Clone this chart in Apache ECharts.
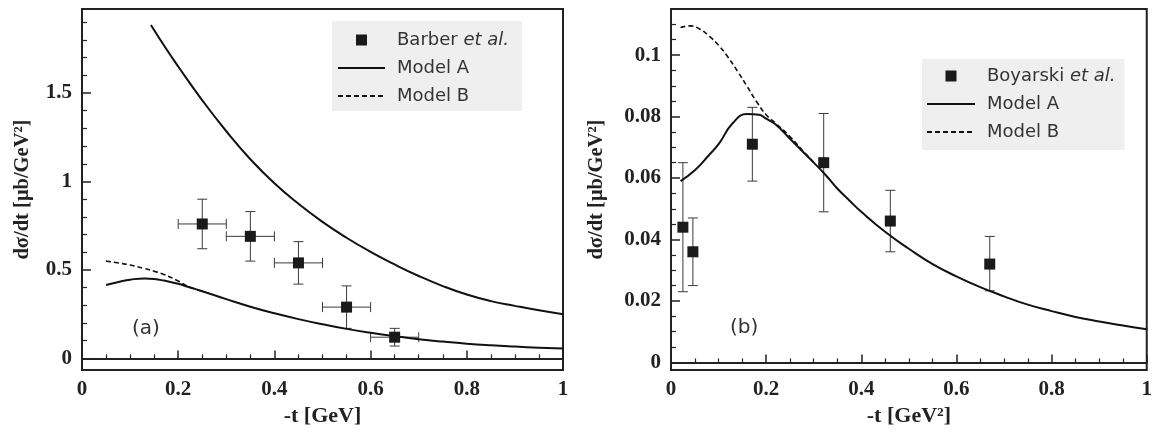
<!DOCTYPE html>
<html>
<head>
<meta charset="utf-8">
<script src="https://cdn.jsdelivr.net/npm/echarts@6/dist/echarts.min.js"></script>
<style>
html,body{margin:0;padding:0;background:#fff;}
#chart{width:1155px;height:432px;}
</style>
</head>
<body>
<div id="chart"></div>
<script>
// ---------- data: panel (a) ----------
const barberT      = [0.25, 0.35, 0.45, 0.55, 0.65];
const barberY      = [0.76, 0.69, 0.54, 0.29, 0.12];
const barberYLow   = [0.62, 0.55, 0.42, 0.17, 0.07];
const barberYHigh  = [0.90, 0.83, 0.66, 0.41, 0.17];
const barberTLow   = [0.20, 0.30, 0.40, 0.50, 0.60];
const barberTHigh  = [0.30, 0.40, 0.50, 0.60, 0.70];

const leftUpperT = [0.1433,0.175,0.2,0.25,0.3,0.35,0.4,0.45,0.5,0.55,0.6,0.65,0.7,0.75,0.8,0.85,0.9,0.95,1.0];
const leftUpperA = [1.885,1.75,1.65,1.459,1.284,1.126,0.99,0.874,0.772,0.682,0.602,0.531,0.466,0.409,0.361,0.324,0.297,0.272,0.25];

const leftLowT = [0.05,0.08,0.1,0.13,0.15,0.17,0.2,0.22,0.25,0.3,0.35,0.4,0.45,0.5,0.55,0.6,0.65,0.7,0.75,0.8,0.85,0.9,0.95,1.0];
const leftLowA = [0.415,0.435,0.445,0.452,0.449,0.44,0.422,0.405,0.38,0.335,0.292,0.255,0.222,0.193,0.167,0.145,0.126,0.109,0.095,0.083,0.074,0.067,0.061,0.056];
const leftBT   = [0.05,0.08,0.1,0.13,0.15,0.17,0.2,0.22,0.25];
const leftB    = [0.55,0.538,0.528,0.508,0.493,0.475,0.438,0.408,0.38];

const leftYMajor = [0, 0.5, 1, 1.5];
const leftYMinor = [0.1,0.2,0.3,0.4,0.6,0.7,0.8,0.9,1.1,1.2,1.3,1.4,1.6,1.7,1.8,1.9];

// ---------- data: panel (b) ----------
const boyT     = [0.025, 0.046, 0.171, 0.321, 0.461, 0.67];
const boyY     = [0.044, 0.036, 0.071, 0.065, 0.046, 0.032];
const boyYLow  = [0.023, 0.025, 0.059, 0.049, 0.036, 0.0233];
const boyYHigh = [0.065, 0.047, 0.083, 0.081, 0.056, 0.041];

const rightAT = [0.02,0.05,0.08,0.1,0.13,0.16,0.185,0.2,0.22,0.25,0.275,0.3,0.325,0.35,0.375,0.4,0.45,0.5,0.55,0.6,0.65,0.7,0.75,0.8,0.85,0.9,0.95,1.0];
const rightA  = [0.059,0.0625,0.0675,0.071,0.0779,0.0808,0.0806,0.0793,0.0774,0.0728,0.0689,0.065,0.061,0.0565,0.0527,0.049,0.0425,0.037,0.032,0.028,0.0245,0.0215,0.0188,0.0167,0.0148,0.0133,0.012,0.0108];
const rightBT = [0.02,0.04,0.06,0.08,0.1,0.12,0.14,0.16,0.18,0.2,0.22,0.25,0.275,0.3];
const rightB  = [0.109,0.1095,0.1085,0.1062,0.1032,0.0993,0.0947,0.0898,0.0848,0.0806,0.0778,0.0735,0.0692,0.0651];

const rightYMajor = [0, 0.02, 0.04, 0.06, 0.08, 0.1];
const rightYMinor = [0.005,0.01,0.015,0.025,0.03,0.035,0.045,0.05,0.055,0.065,0.07,0.075,0.085,0.09,0.095,0.105,0.11];

// ---------- styling helpers ----------
const INK = '#222';
const serif = 'Liberation Serif';
const sans = 'DejaVu Sans';
const pairs = (xs, ys) => xs.map((x, i) => [x, ys[i]]);

function xAxisDef(grid, name) {
  return {
    gridIndex: grid, type: 'value', min: 0, max: 1, interval: 0.2,
    axisLine: { lineStyle: { color: INK, width: 2 } },
    axisTick: { inside: true, length: 8, lineStyle: { color: INK, width: 1.5 } },
    minorTick: { show: true, splitNumber: 4, length: 4, lineStyle: { color: INK, width: 1.2 } },
    splitLine: { show: false }, minorSplitLine: { show: false },
    axisLabel: { margin: 9, fontFamily: serif, fontWeight: 'bold', fontSize: 21, color: INK },
    name: name, nameLocation: 'middle', nameGap: 33,
    nameTextStyle: { fontFamily: serif, fontWeight: 'bold', fontSize: 22, color: INK }
  };
}
function yMajor(grid, min, max, ticks, gap) {
  return {
    gridIndex: grid, type: 'value', min: min, max: max, position: 'left',
    axisLine: { show: true, lineStyle: { color: INK, width: 2 } },
    axisTick: { show: true, inside: true, length: 9, customValues: ticks, lineStyle: { color: INK, width: 1.5 } },
    axisLabel: { margin: 10, customValues: ticks, fontFamily: serif, fontWeight: 'bold', fontSize: 21, color: INK },
    splitLine: { show: false },
    name: 'dσ/dt [μb/GeV²]', nameLocation: 'middle', nameGap: gap, nameRotate: 90,
    nameTextStyle: { fontFamily: serif, fontWeight: 'bold', fontSize: 20.5, color: INK }
  };
}
function yMinor(grid, min, max, ticks) {
  return {
    gridIndex: grid, type: 'value', min: min, max: max, position: 'left', offset: 0,
    axisLine: { show: false },
    axisTick: { show: true, inside: true, length: 5, customValues: ticks, lineStyle: { color: INK, width: 1.2 } },
    axisLabel: { show: false },
    splitLine: { show: false }
  };
}
function errBars(xi, yi, data) {
  return {
    type: 'custom', xAxisIndex: xi, yAxisIndex: yi, z: 2, silent: true,
    data: data,
    renderItem: function (params, api) {
      const x = api.value(0), y = api.value(1);
      const ylo = api.value(2), yhi = api.value(3);
      const xlo = api.value(4), xhi = api.value(5);
      const c = api.coord([x, y]);
      const pLo = api.coord([x, ylo]), pHi = api.coord([x, yhi]);
      const st = { stroke: '#3a3a3a', lineWidth: 1 };
      const cap = 5;
      const ch = [
        { type: 'line', shape: { x1: c[0], y1: pLo[1], x2: c[0], y2: pHi[1] }, style: st },
        { type: 'line', shape: { x1: c[0] - cap, y1: pLo[1], x2: c[0] + cap, y2: pLo[1] }, style: st },
        { type: 'line', shape: { x1: c[0] - cap, y1: pHi[1], x2: c[0] + cap, y2: pHi[1] }, style: st }
      ];
      if (xhi > xlo) {
        const qLo = api.coord([xlo, y]), qHi = api.coord([xhi, y]);
        ch.push({ type: 'line', shape: { x1: qLo[0], y1: c[1], x2: qHi[0], y2: c[1] }, style: st });
        ch.push({ type: 'line', shape: { x1: qLo[0], y1: c[1] - cap, x2: qLo[0], y2: c[1] + cap }, style: st });
        ch.push({ type: 'line', shape: { x1: qHi[0], y1: c[1] - cap, x2: qHi[0], y2: c[1] + cap }, style: st });
      }
      return { type: 'group', children: ch };
    }
  };
}
function lineSeries(name, xi, yi, data, dashed) {
  return {
    type: 'line', name: name, xAxisIndex: xi, yAxisIndex: yi, data: data,
    showSymbol: false, symbol: 'none', smooth: 0.5, z: 3, silent: true,
    lineStyle: { color: '#111', width: dashed ? 1.6 : 2, type: dashed ? [5, 3] : 'solid' },
    itemStyle: { color: '#111' }
  };
}
const sq = 'path://M0 0H10V10H0Z';
function legendDef(left, top, scatterName, itemWidth, padding) {
  return {
    orient: 'vertical', left: left, top: top, selectedMode: false,
    data: [
      { name: scatterName, icon: sq, itemStyle: { opacity: 1 } },
      { name: 'Model A', itemStyle: { opacity: 0 } },
      { name: 'Model B', itemStyle: { opacity: 0 } }
    ],
    itemWidth: itemWidth, itemHeight: 11, itemGap: 10,
    padding: padding, backgroundColor: '#efefef', borderWidth: 0,
    formatter: function (n) {
      return n.endsWith(' et al.') ? n.slice(0, -7) + ' {i|et al.}' : n;
    },
    textStyle: {
      fontFamily: sans, fontSize: 18, color: '#333', lineHeight: 18, padding: [0, 0, 0, 7],
      rich: { i: { fontFamily: sans, fontSize: 18, fontStyle: 'italic', color: '#333', lineHeight: 18 } }
    }
  };
}

const option = {
  backgroundColor: '#fff',
  animation: false,
  grid: [
    { left: 82, top: 9, right: 1155 - 563, bottom: 432 - 378, show: true, borderColor: INK, borderWidth: 2, containLabel: false },
    { left: 671, top: 9, right: 2, bottom: 432 - 378, show: true, borderColor: INK, borderWidth: 2, containLabel: false }
  ],
  xAxis: [xAxisDef(0, '-t [GeV]'), xAxisDef(1, '-t [GeV²]')],
  yAxis: [
    yMajor(0, -0.066, 1.975, leftYMajor, 49),
    yMinor(0, -0.066, 1.975, leftYMinor),
    yMajor(1, -0.0025, 0.115, rightYMajor, 64),
    yMinor(1, -0.0025, 0.115, rightYMinor)
  ],
  legend: [
    legendDef(332, 21, 'Barber et al.', 47, [10, 13, 6, 5]),
    legendDef(922, 59, 'Boyarski et al.', 48, [8, 9, 9, 4])
  ],
  graphic: [
    { type: 'text', left: 132, top: 319, style: { text: '(a)', fontFamily: sans, fontSize: 20, fill: '#333' } },
    { type: 'text', left: 730, top: 318, style: { text: '(b)', fontFamily: sans, fontSize: 20, fill: '#333' } }
  ],
  series: [
    errBars(0, 0, barberT.map((t, i) => [t, barberY[i], barberYLow[i], barberYHigh[i], barberTLow[i], barberTHigh[i]])),
    lineSeries('Model A', 0, 0, pairs(leftUpperT, leftUpperA), false),
    lineSeries('Model A', 0, 0, pairs(leftLowT, leftLowA), false),
    lineSeries('Model B', 0, 0, pairs(leftBT, leftB), true),
    {
      type: 'scatter', name: 'Barber et al.', xAxisIndex: 0, yAxisIndex: 0, z: 5, silent: true,
      symbol: 'rect', symbolSize: 11, itemStyle: { color: '#1a1a1a', opacity: 1 },
      data: pairs(barberT, barberY)
    },
    errBars(1, 2, boyT.map((t, i) => [t, boyY[i], boyYLow[i], boyYHigh[i], t, t])),
    lineSeries('Model A', 1, 2, pairs(rightAT, rightA), false),
    lineSeries('Model B', 1, 2, pairs(rightBT, rightB), true),
    {
      type: 'scatter', name: 'Boyarski et al.', xAxisIndex: 1, yAxisIndex: 2, z: 5, silent: true,
      symbol: 'rect', symbolSize: 11, itemStyle: { color: '#1a1a1a', opacity: 1 },
      data: pairs(boyT, boyY)
    }
  ]
};

const chart = echarts.init(document.getElementById('chart'), null, { renderer: 'canvas' });
chart.setOption(option);
</script>
</body>
</html>
